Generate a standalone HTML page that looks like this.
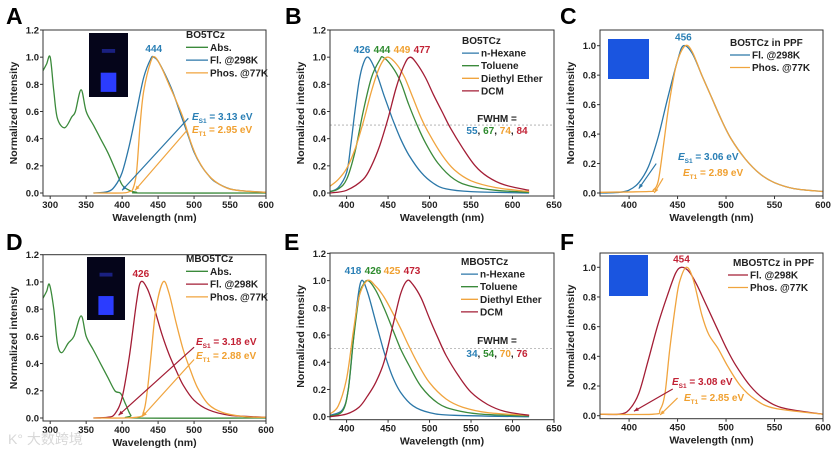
<!DOCTYPE html>
<html><head><meta charset="utf-8">
<style>
html,body{margin:0;padding:0;background:#fff;}
svg{display:block;font-family:"Liberation Sans",Arial,sans-serif;}
</style></head>
<body>
<svg id="fig" width="836" height="457" viewBox="0 0 836 457" xmlns="http://www.w3.org/2000/svg"></svg>
<script>
// ---- data (wavelength nm, normalized intensity) ----
const aAbsX=[290,295,300,305,310,320,330,335,343,350,360,370,380,390,400,410,420,430,600];
const aAbsY=[0.9,0.95,1.0,0.75,0.55,0.48,0.56,0.6,0.76,0.6,0.5,0.4,0.3,0.18,0.06,0.02,0.005,0.0,0.0];
const aFlX=[360,380,390,400,410,420,430,440,444,450,460,470,480,490,500,510,520,530,550,570,600];
const aFlY=[0,0.01,0.05,0.15,0.35,0.6,0.85,0.99,1.0,0.97,0.87,0.75,0.6,0.45,0.3,0.2,0.13,0.08,0.03,0.015,0.005];
const aPhX=[360,400,410,415,420,425,430,440,446,455,465,475,485,495,505,520,540,560,600];
const aPhY=[0,0,0.01,0.03,0.15,0.5,0.75,0.97,1.0,0.92,0.8,0.68,0.55,0.38,0.25,0.13,0.05,0.02,0.005];

const bHexX=[380,390,400,405,410,415,420,426,435,445,455,465,475,490,505,520,550,620];
const bHexY=[0.01,0.04,0.15,0.35,0.6,0.82,0.95,1.0,0.9,0.72,0.55,0.4,0.28,0.15,0.07,0.03,0.01,0];
const bTolX=[380,390,400,410,420,430,440,444,455,465,475,485,495,510,530,550,580,620];
const bTolY=[0.01,0.03,0.1,0.3,0.6,0.85,0.98,1.0,0.93,0.82,0.65,0.5,0.37,0.22,0.1,0.05,0.02,0.005];
const bEthX=[380,390,400,410,420,430,440,449,460,470,480,490,500,515,530,550,580,620];
const bEthY=[0.05,0.1,0.18,0.32,0.52,0.75,0.93,1.0,0.95,0.85,0.7,0.55,0.43,0.28,0.17,0.09,0.04,0.01];
const bDcmX=[380,400,420,430,440,450,460,470,477,485,495,505,515,525,540,555,570,590,620];
const bDcmY=[0,0.02,0.1,0.2,0.35,0.55,0.78,0.95,1.0,0.95,0.85,0.72,0.6,0.48,0.33,0.2,0.12,0.06,0.02];

const cFlX=[370,390,400,410,420,430,440,450,456,465,475,485,495,505,520,535,550,570,600];
const cFlY=[0,0.005,0.02,0.07,0.18,0.38,0.65,0.9,1.0,0.95,0.8,0.65,0.5,0.37,0.23,0.13,0.07,0.03,0.01];
const cPhX=[370,420,425,430,435,440,445,450,458,465,475,485,495,505,520,535,550,570,600];
const cPhY=[0.005,0.01,0.02,0.08,0.3,0.55,0.75,0.9,1.0,0.96,0.8,0.65,0.5,0.37,0.23,0.13,0.07,0.03,0.01];

const dAbsX=[290,295,299,305,310,316,325,333,343,350,360,370,380,390,398,405,412,420,600];
const dAbsY=[0.88,0.93,0.98,0.8,0.55,0.48,0.55,0.6,0.75,0.6,0.5,0.4,0.3,0.2,0.18,0.1,0.02,0,0];
const dFlX=[360,380,390,400,410,420,426,435,445,455,465,475,485,500,520,550,600];
const dFlY=[0,0.005,0.03,0.15,0.45,0.85,1.0,0.95,0.8,0.62,0.47,0.35,0.24,0.13,0.06,0.02,0.005];
const dPhX=[360,420,430,435,440,447,457,465,475,485,495,505,520,540,570,600];
const dPhY=[0,0.005,0.05,0.2,0.45,0.8,1.0,0.92,0.7,0.5,0.35,0.22,0.1,0.04,0.01,0.005];

const eHexX=[380,395,402,408,413,418,425,435,445,455,465,480,500,530,620];
const eHexY=[0.01,0.05,0.2,0.55,0.85,1.0,0.92,0.7,0.48,0.3,0.18,0.08,0.03,0.01,0];
const eTolX=[380,395,402,408,415,420,426,435,445,455,465,475,490,510,530,560,620];
const eTolY=[0.005,0.04,0.2,0.55,0.88,0.97,1.0,0.93,0.8,0.65,0.5,0.38,0.22,0.1,0.05,0.02,0.005];
const eEthX=[380,390,400,408,415,425,435,445,455,465,475,485,500,520,540,570,620];
const eEthY=[0.02,0.08,0.28,0.62,0.88,1.0,0.96,0.88,0.77,0.65,0.52,0.4,0.25,0.13,0.07,0.03,0.01];
const eDcmX=[380,400,415,425,435,445,455,465,473,480,490,500,510,520,535,550,570,590,620];
const eDcmY=[0,0.02,0.07,0.15,0.25,0.4,0.65,0.9,1.0,0.97,0.87,0.72,0.58,0.45,0.3,0.18,0.09,0.04,0.01];

const fFlX=[370,390,400,410,420,430,440,448,454,462,470,480,490,500,510,525,540,560,600];
const fFlY=[0.01,0.01,0.04,0.15,0.38,0.62,0.82,0.96,1.0,0.97,0.88,0.74,0.6,0.46,0.34,0.2,0.11,0.05,0.01];
const fPhX=[370,425,432,437,442,448,452,459,466,475,482,492,502,515,530,550,600];
const fPhY=[0.01,0.01,0.04,0.15,0.45,0.75,0.9,1.0,0.92,0.68,0.55,0.45,0.33,0.2,0.11,0.05,0.01];

const xTicksA=[300,350,400,450,500,550,600];
const xTicksB=[400,450,500,550,600,650];
const xTicksC=[400,450,500,550,600];
const yTicks12=[0.0,0.2,0.4,0.6,0.8,1.0,1.2];
const yTicks10=[0.0,0.2,0.4,0.6,0.8,1.0];

const BLUE="#2b77a8",GREEN="#3b8a3b",ORANGE="#f0a43e",RED="#a31d35";
const TBLUE="#2a7fb5",TGREEN="#2e8b2e",TORANGE="#f0a030",TRED="#c22235";

const NS="http://www.w3.org/2000/svg";
const svg=document.getElementById('fig');
function mk(tag,attrs,parent){const e=document.createElementNS(NS,tag);for(const k in attrs)e.setAttribute(k,attrs[k]);(parent||svg).appendChild(e);return e;}

function panel(cfg){
  const g=mk('g',{});
  
  
  const sx=v=>cfg.px0+(v-cfg.xmin)*(cfg.px1-cfg.px0)/(cfg.xmax-cfg.xmin);
  const sy=v=>cfg.py0-v*cfg.pyU;
  const bottom=cfg.py0+3;
  cfg.sx=sx;cfg.sy=sy;
  // letter
  const L=mk('text',{x:cfg.lx,y:cfg.ly,'font-size':23,'font-weight':'bold',fill:'#000'},g);L.textContent=cfg.id;
  
  
  // inset
  if(cfg.inset) cfg.inset(g);
  // dashed half line
  if(cfg.half){const h=mk('line',{x1:cfg.px0,x2:cfg.px1,y1:sy(0.5),y2:sy(0.5),stroke:'#aaa','stroke-width':0.8,'stroke-dasharray':'2,2'},g);
    
    }
  // series
  const clip='clip'+cfg.id;
  const cp=mk('clipPath',{id:clip},g);mk('rect',{x:cfg.px0,y:cfg.top,width:cfg.px1-cfg.px0,height:bottom-cfg.top},cp);
  cfg.series.forEach(s=>{
    const pts=s.x.map((x,i)=>[sx(x),sy(s.y[i])]);
    let d='M'+pts[0][0].toFixed(1)+','+pts[0][1].toFixed(1);
    for(let i=0;i<pts.length-1;i++){
      const p0=pts[i-1]||pts[i],p1=pts[i],p2=pts[i+1],p3=pts[i+2]||p2;
      const c1=[p1[0]+(p2[0]-p0[0])/6,p1[1]+(p2[1]-p0[1])/6],c2=[p2[0]-(p3[0]-p1[0])/6,p2[1]-(p3[1]-p1[1])/6];
      d+=` C${c1[0].toFixed(1)},${c1[1].toFixed(1)} ${c2[0].toFixed(1)},${c2[1].toFixed(1)} ${p2[0].toFixed(1)},${p2[1].toFixed(1)}`;
    }
    const p=mk('path',{d:d,fill:'none',stroke:s.c,'stroke-width':1.3,'clip-path':`url(#${clip})`},g);
    
    
  });
  // frame
  const fr=mk('rect',{x:cfg.px0,y:cfg.top,width:cfg.px1-cfg.px0,height:bottom-cfg.top,fill:'none',stroke:'#333','stroke-width':1},g);
  
  
  cfg.xt.forEach(t=>{
    mk('line',{x1:sx(t),x2:sx(t),y1:bottom,y2:bottom+3,stroke:'#333'},g);
    const tx=mk('text',{x:sx(t),y:bottom+12,'font-size':9.5,'font-weight':'bold','text-anchor':'middle',fill:'#222'},g);tx.textContent=t;
    
    
  });
  cfg.yt.forEach(t=>{
    mk('line',{x1:cfg.px0-3,x2:cfg.px0,y1:sy(t),y2:sy(t),stroke:'#333'},g);
    const ty=mk('text',{x:cfg.px0-4,y:sy(t)+3.5,'font-size':9.5,'font-weight':'bold','text-anchor':'end',fill:'#222'},g);ty.textContent=t.toFixed(1);
    
    
  });
  const xt=mk('text',{x:(cfg.px0+cfg.px1)/2,y:bottom+25,'font-size':10.5,'font-weight':'bold','text-anchor':'middle',fill:'#222'},g);xt.textContent='Wavelength (nm)';
  
  
  const yc=(cfg.top+bottom)/2,yx=cfg.px0-26;
  const yt=mk('text',{x:yx,y:yc,'font-size':10.5,'font-weight':'bold','text-anchor':'middle',fill:'#222',transform:`rotate(-90 ${yx} ${yc})`},g);yt.textContent='Normalized intensity';
  
  
  // legend
  const lg=mk('g',{},g);
  
  
  const t0=mk('text',{x:cfg.leg[0],y:cfg.leg[1],'font-size':10,'font-weight':'bold',fill:'#222'},lg);t0.textContent=cfg.legTitle;
  cfg.series.forEach((s,i)=>{
    const y=cfg.leg[1]+cfg.legDy*(i+1)-3.5;
    mk('line',{x1:cfg.leg[0]+cfg.legL0,x2:cfg.leg[0]+cfg.legL0+cfg.legLen,y1:y,y2:y,stroke:s.c,'stroke-width':1.3},lg);
    const t=mk('text',{x:cfg.leg[0]+cfg.legL0+cfg.legLen+2,y:y+3.5,'font-size':10,'font-weight':'bold',fill:'#222'},lg);t.textContent=s.label;
    
    
  });
  if(cfg.extra) cfg.extra(g,sx,sy);
  return cfg;
}
function txt(g,x,y,str,col,size,name,anchor){const t=mk('text',{x:x,y:y,'font-size':size||10,'font-weight':'bold',fill:col,'text-anchor':anchor||'start'},g);t.textContent=str;
  
  return t;}
function energy(g,x,y,sub,val,col){
  const t=mk('text',{x:x,y:y,'font-size':10,'font-weight':'bold',fill:col},g);
  
  
  const a=mk('tspan',{'font-style':'italic'},t);a.textContent='E';
  const b=mk('tspan',{'font-size':6.5,dy:3},t);b.textContent=sub;
  const c=mk('tspan',{dy:-3},t);c.textContent=' = '+val;
}
function arrow(g,x1,y1,x2,y2,col){
  const l=mk('line',{x1:x1,y1:y1,x2:x2,y2:y2,stroke:col,'stroke-width':1.2},g);
  
  
  const ang=Math.atan2(y2-y1,x2-x1),s=5;
  const p=[[x2,y2],[x2-s*Math.cos(ang-0.4),y2-s*Math.sin(ang-0.4)],[x2-s*Math.cos(ang+0.4),y2-s*Math.sin(ang+0.4)]];
  mk('polygon',{points:p.map(q=>q.join(',')).join(' '),fill:col},g);
}
function vial(g,x,y,w,h){
  const r=mk('rect',{x:x,y:y,width:w,height:h,fill:'#05051a'},g);
  
  
  mk('rect',{x:x+w*0.3,y:y+h*0.62,width:w*0.4,height:h*0.3,fill:'#2b3cff'},g);
  mk('rect',{x:x+w*0.33,y:y+h*0.25,width:w*0.34,height:h*0.06,fill:'#1a2080'},g);
}
function film(g,x,y,w,h){
  const r=mk('rect',{x:x,y:y,width:w,height:h,fill:'#1a55e0'},g);
  
  
}
const UA=163/1.2;
panel({id:'A',lx:6,ly:24,px0:43,px1:266,xmin:290,xmax:600,py0:193,pyU:UA,top:30,xt:xTicksA,yt:yTicks12,
  series:[{name:'abs',x:aAbsX,y:aAbsY,c:GREEN,label:'Abs.'},{name:'fl-298k',x:aFlX,y:aFlY,c:BLUE,label:'Fl. @298K'},{name:'phos-77k',x:aPhX,y:aPhY,c:ORANGE,label:'Phos. @77K'}],
  leg:[186,38],legDy:12.8,legL0:0,legLen:22,legTitle:'BO5TCz',
  inset:g=>vial(g,89,33,39,64),
  extra:(g,sx,sy)=>{txt(g,sx(444),sy(1.0)-5,'444',TBLUE,10,'peak-label','middle');
    arrow(g,sx(492),sy(0.55),sx(400),sy(0.02),BLUE);arrow(g,sx(490),sy(0.46),sx(418),sy(0.02),ORANGE);
    energy(g,192,120,'S1','3.13 eV',TBLUE);energy(g,192,133,'T1','2.95 eV',TORANGE);}
});
panel({id:'B',lx:285,ly:24,px0:330,px1:554,xmin:380,xmax:650,py0:193,pyU:UA,top:30,xt:xTicksB,yt:yTicks12,half:true,
  series:[{name:'n-hexane',x:bHexX,y:bHexY,c:BLUE,label:'n-Hexane'},{name:'toluene',x:bTolX,y:bTolY,c:GREEN,label:'Toluene'},{name:'diethyl-ether',x:bEthX,y:bEthY,c:ORANGE,label:'Diethyl Ether'},{name:'dcm',x:bDcmX,y:bDcmY,c:RED,label:'DCM'}],
  leg:[462,44],legDy:12.6,legL0:0,legLen:17,legTitle:'BO5TCz',
  extra:(g,sx,sy)=>{
    txt(g,362,53,'426',TBLUE,10,'peak-label','middle');txt(g,382,53,'444',TGREEN,10,'peak-label','middle');
    txt(g,402,53,'449',TORANGE,10,'peak-label','middle');txt(g,422,53,'477',TRED,10,'peak-label','middle');
    txt(g,497,122,'FWHM =','#222',10,'fwhm-title','middle');
    const t=mk('text',{x:497,y:134,'font-size':10,'font-weight':'bold','text-anchor':'middle'},g);
    
    
    [['55',TBLUE],[', ','#222'],['67',TGREEN],[', ','#222'],['74',TORANGE],[', ','#222'],['84',TRED]].forEach(p=>{const s=mk('tspan',{fill:p[1]},t);s.textContent=p[0];});}
});
panel({id:'C',lx:560,ly:24,px0:600,px1:823,xmin:370,xmax:600,py0:193,pyU:147.3,top:30,xt:xTicksC,yt:yTicks10,
  series:[{name:'fl-298k',x:cFlX,y:cFlY,c:BLUE,label:'Fl. @298K'},{name:'phos-77k',x:cPhX,y:cPhY,c:ORANGE,label:'Phos. @77K'}],
  leg:[730,46],legDy:12.5,legL0:0,legLen:20,legTitle:'BO5TCz in PPF',
  inset:g=>film(g,608,39,41,40),
  extra:(g,sx,sy)=>{txt(g,sx(456),sy(1.0)-5,'456',TBLUE,10,'peak-label','middle');
    arrow(g,sx(428),sy(0.2),sx(410),sy(0.03),BLUE);arrow(g,sx(435),sy(0.1),sx(426),sy(0.0),ORANGE);
    energy(g,678,160,'S1','3.06 eV',TBLUE);energy(g,683,176,'T1','2.89 eV',TORANGE);}
});
const UD=163.3/1.2;
panel({id:'D',lx:6,ly:250,px0:43,px1:266,xmin:290,xmax:600,py0:418,pyU:UD,top:254.7,xt:xTicksA,yt:yTicks12,
  series:[{name:'abs',x:dAbsX,y:dAbsY,c:GREEN,label:'Abs.'},{name:'fl-298k',x:dFlX,y:dFlY,c:RED,label:'Fl. @298K'},{name:'phos-77k',x:dPhX,y:dPhY,c:ORANGE,label:'Phos. @77K'}],
  leg:[186,262],legDy:12.8,legL0:0,legLen:22,legTitle:'MBO5TCz',
  inset:g=>vial(g,87,257,38,63),
  extra:(g,sx,sy)=>{txt(g,sx(426),sy(1.0)-5,'426',TRED,10,'peak-label','middle');
    arrow(g,sx(500),sy(0.52),sx(395),sy(0.02),RED);arrow(g,sx(500),sy(0.43),sx(428),sy(0.01),ORANGE);
    energy(g,196,345,'S1','3.18 eV',TRED);energy(g,196,359,'T1','2.88 eV',TORANGE);}
});
panel({id:'E',lx:284,ly:250,px0:330,px1:554,xmin:380,xmax:650,py0:416.7,pyU:UD,top:253,xt:xTicksB,yt:yTicks12,half:true,
  series:[{name:'n-hexane',x:eHexX,y:eHexY,c:BLUE,label:'n-Hexane'},{name:'toluene',x:eTolX,y:eTolY,c:GREEN,label:'Toluene'},{name:'diethyl-ether',x:eEthX,y:eEthY,c:ORANGE,label:'Diethyl Ether'},{name:'dcm',x:eDcmX,y:eDcmY,c:RED,label:'DCM'}],
  leg:[461,265],legDy:12.6,legL0:0,legLen:17,legTitle:'MBO5TCz',
  extra:(g,sx,sy)=>{
    txt(g,353,274,'418',TBLUE,10,'peak-label','middle');txt(g,373,274,'426',TGREEN,10,'peak-label','middle');
    txt(g,392,274,'425',TORANGE,10,'peak-label','middle');txt(g,412,274,'473',TRED,10,'peak-label','middle');
    txt(g,497,344,'FWHM =','#222',10,'fwhm-title','middle');
    const t=mk('text',{x:497,y:357,'font-size':10,'font-weight':'bold','text-anchor':'middle'},g);
    
    
    [['34',TBLUE],[', ','#222'],['54',TGREEN],[', ','#222'],['70',TORANGE],[', ','#222'],['76',TRED]].forEach(p=>{const s=mk('tspan',{fill:p[1]},t);s.textContent=p[0];});}
});
panel({id:'F',lx:560,ly:250,px0:600,px1:823,xmin:370,xmax:600,py0:415.7,pyU:148.4,top:253,xt:xTicksC,yt:yTicks10,
  series:[{name:'fl-298k',x:fFlX,y:fFlY,c:RED,label:'Fl. @298K'},{name:'phos-77k',x:fPhX,y:fPhY,c:ORANGE,label:'Phos. @77K'}],
  leg:[733,266],legDy:12.5,legL0:-5,legLen:20,legTitle:'MBO5TCz in PPF',
  inset:g=>film(g,609,255,39,41),
  extra:(g,sx,sy)=>{txt(g,sx(454),sy(1.0)-5,'454',TRED,10,'peak-label','middle');
    arrow(g,sx(445),sy(0.18),sx(405),sy(0.03),RED);arrow(g,sx(450),sy(0.12),sx(432),sy(0.005),ORANGE);
    energy(g,672,385,'S1','3.08 eV',TRED);energy(g,684,401,'T1','2.85 eV',TORANGE);}
});
const wm=mk('text',{x:8,y:444,'font-size':14,'font-family':'"Liberation Sans","Noto Sans CJK SC",sans-serif',fill:'#d8d8d8'});
wm.textContent='K° 大数跨境';


</script>
</body></html>
